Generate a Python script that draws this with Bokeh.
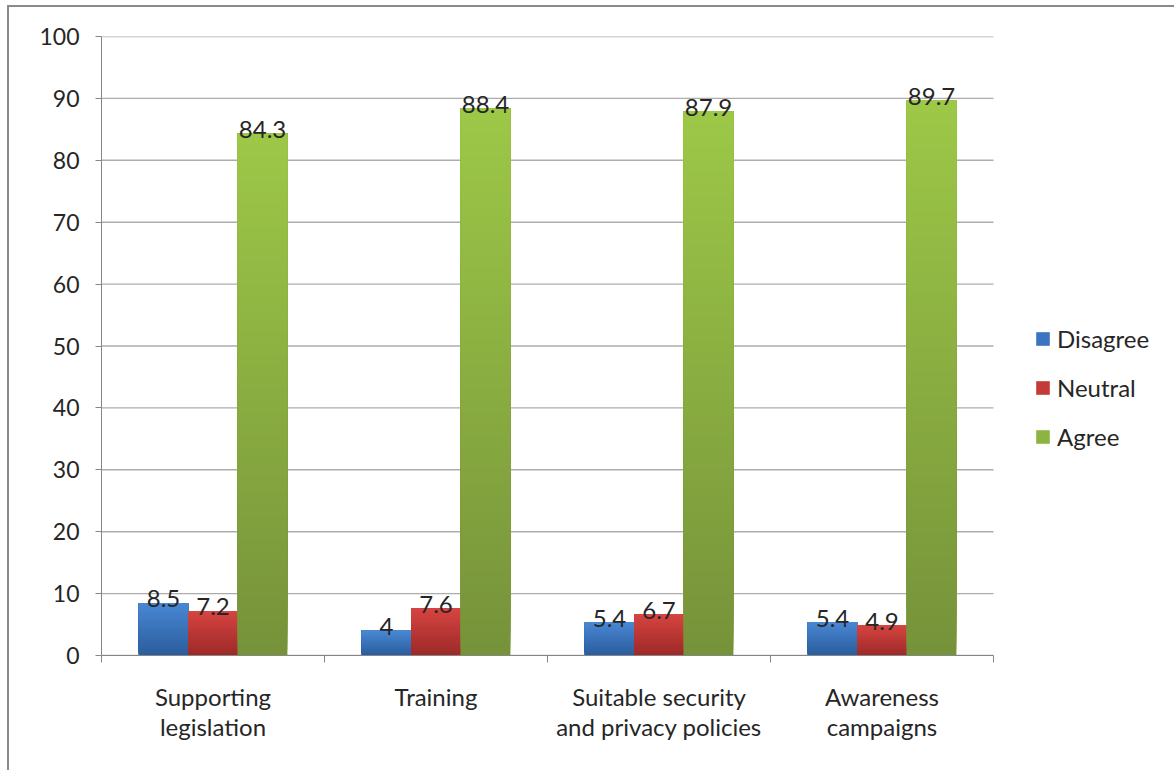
import numpy as np
from bokeh.plotting import figure
from bokeh.models import (ColumnDataSource, Range1d, FixedTicker, Legend,
                          LegendItem)
from bokeh.core.properties import value
from bokeh.embed import file_html
from bokeh.resources import INLINE

# ---- data -----------------------------------------------------------------
categories = [
    "Supporting\nlegislation",
    "Training",
    "Suitable security\nand privacy policies",
    "Awareness\ncampaigns",
]
series_names = ["Disagree", "Neutral", "Agree"]
disagree = [8.5, 4, 5.4, 5.4]
neutral = [7.2, 7.6, 6.7, 4.9]
agree = [84.3, 88.4, 87.9, 89.7]
y_ticks = [0, 10, 20, 30, 40, 50, 60, 70, 80, 90, 100]

# ---- styling --------------------------------------------------------------
FONT = "Lato"
TEXT_COLOR = "#262626"
AXIS_COLOR = "#868686"
GRID_COLOR = "#ADADAD"
BORDER_COLOR = "#8A8A8A"
# (top colour, bottom colour, legend colour) per series
palette = {
    "Disagree": ("#4A88D4", "#2B5D9C", "#3B74C0"),
    "Neutral": ("#D64541", "#9C2A29", "#C43A37"),
    "Agree": ("#9DC847", "#76923A", "#8DB443"),
}
BAR_W = 0.222
N_SLICES = 90

# page geometry (pixels): the plotting frame runs to the right canvas edge so
# the legend can sit inside it; axis and gridlines span only the categories
W, H = 1174, 770
FRAME_L, FRAME_T, FRAME_B = 101, 36, 655
AXIS_R = 993
n_cat = len(categories)
x_end = n_cat * (W - FRAME_L) / (AXIS_R - FRAME_L)


def hex_to_rgb(h):
    h = h.lstrip("#")
    return np.array([int(h[i:i + 2], 16) for i in (0, 2, 4)], dtype=float)


def blend(c_bottom, c_top, t):
    a, b = hex_to_rgb(c_bottom), hex_to_rgb(c_top)
    c = np.round(a + (b - a) * t).astype(int)
    return "#%02x%02x%02x" % tuple(c)


# thin border along the left and top edges of the chart area
edge = f"linear-gradient({BORDER_COLOR}, {BORDER_COLOR})"
chart_styles = {
    "background": f"{edge} 7px 5px / 2px 100% no-repeat, "
                  f"{edge} 7px 5px / 100% 2px no-repeat",
}

p = figure(
    width=W, height=H,
    x_range=Range1d(0, x_end), y_range=Range1d(0, 100),
    output_backend="svg", toolbar_location=None,
    min_border_left=FRAME_L, min_border_right=0,
    min_border_top=FRAME_T, min_border_bottom=H - FRAME_B,
    background_fill_color="white", border_fill_alpha=0,
    outline_line_color=None, styles=chart_styles,
)

# horizontal gridlines across the category span
p.segment(x0=0, x1=n_cat, y0=y_ticks, y1=y_ticks, line_color=GRID_COLOR,
          line_width=1.4)

# gradient bars: a solid base bar per value, shaded by a stack of
# overlapping slices that get lighter toward the top
series_values = [disagree, neutral, agree]
legend_items = []
for s_idx, (name, vals) in enumerate(zip(series_names, series_values)):
    top_c, bot_c, leg_c = palette[name]
    offset = (s_idx - 1) * BAR_W
    xs = [i + 0.5 + offset for i in range(n_cat)]

    base = p.vbar(x=xs, top=vals, bottom=0, width=BAR_W, fill_color=leg_c,
                  line_color=None)
    legend_items.append(LegendItem(label=name, renderers=[base]))

    data = dict(left=[], right=[], bottom=[], top=[], color=[])
    for xc, v in zip(xs, vals):
        for k in range(N_SLICES):
            data["left"].append(xc - BAR_W / 2)
            data["right"].append(xc + BAR_W / 2)
            data["bottom"].append(v * k / N_SLICES)
            data["top"].append(v)
            data["color"].append(blend(bot_c, top_c, (k + 0.5) / N_SLICES))
    p.quad(left="left", right="right", bottom="bottom", top="top",
           fill_color="color", line_color=None, source=ColumnDataSource(data))

    # value labels above bars
    lab = ColumnDataSource(dict(x=xs, y=vals, text=[f"{v:g}" for v in vals]))
    p.text(x="x", y="y", text="text", source=lab, text_align="center",
           text_baseline="alphabetic", y_offset=-4, text_font=value(FONT),
           text_font_size="24px", text_color=TEXT_COLOR)

# ---- axes -----------------------------------------------------------------
p.yaxis.ticker = FixedTicker(ticks=y_ticks)
p.yaxis.axis_line_color = AXIS_COLOR
p.yaxis.major_tick_line_color = AXIS_COLOR
p.yaxis.major_tick_out = 6
p.yaxis.major_tick_in = 0
p.yaxis.minor_tick_line_color = None
p.yaxis.major_label_standoff = 16
p.yaxis.major_label_text_font = FONT
p.yaxis.major_label_text_font_size = "23px"
p.yaxis.major_label_text_color = TEXT_COLOR

centers = [i + 0.5 for i in range(n_cat)]
p.xaxis.bounds = (0, n_cat)
p.xaxis.ticker = FixedTicker(ticks=centers, minor_ticks=list(range(n_cat + 1)))
p.xaxis.major_label_overrides = {c: lbl for c, lbl in zip(centers, categories)}
p.xaxis.axis_line_color = AXIS_COLOR
p.xaxis.major_tick_line_color = None
p.xaxis.major_tick_out = 0
p.xaxis.major_tick_in = 0
p.xaxis.minor_tick_line_color = AXIS_COLOR
p.xaxis.minor_tick_out = 7
p.xaxis.minor_tick_in = 0
p.xaxis.major_label_standoff = 19
p.xaxis.major_label_text_font = FONT
p.xaxis.major_label_text_font_size = "24px"
p.xaxis.major_label_text_color = TEXT_COLOR
p.xaxis.major_label_text_line_height = 1.05

p.xgrid.grid_line_color = None
p.ygrid.grid_line_color = None

# ---- legend ---------------------------------------------------------------
legend = Legend(
    items=legend_items, location=(933, 204), orientation="vertical",
    glyph_width=17, glyph_height=17, label_height=28, label_standoff=6,
    spacing=20, padding=0, margin=0, border_line_color=None,
    background_fill_alpha=0,
    label_text_font=FONT, label_text_font_size="24px",
    label_text_color=TEXT_COLOR,
)
p.add_layout(legend, "center")

open("out.html", "w").write(file_html(p, INLINE))
